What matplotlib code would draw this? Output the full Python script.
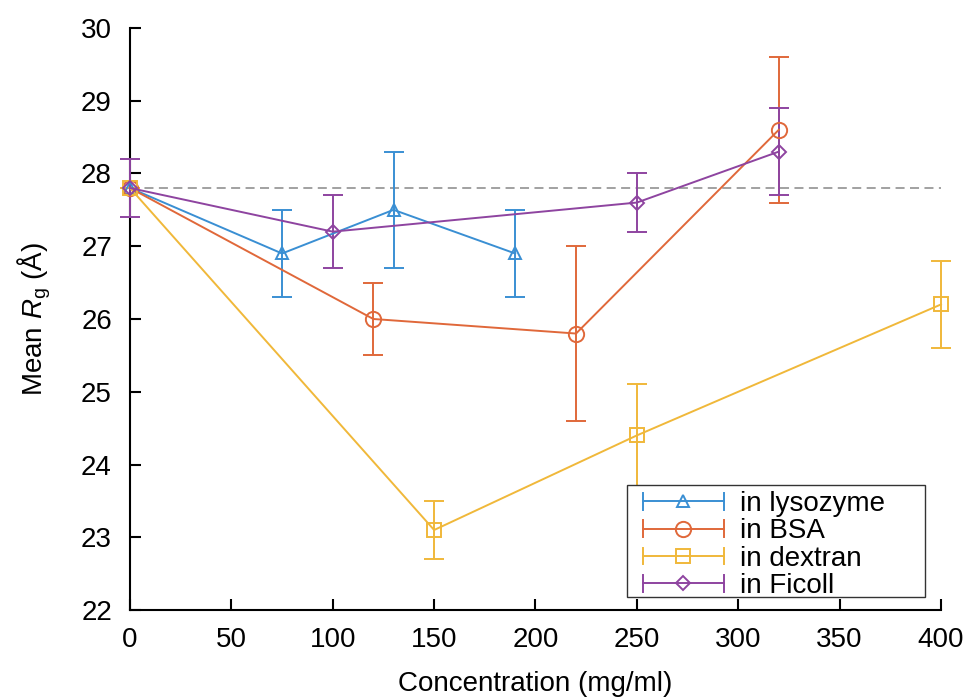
import matplotlib
matplotlib.use("Agg")
import matplotlib.pyplot as plt
from matplotlib.lines import Line2D
from matplotlib.patches import Rectangle
from matplotlib.legend_handler import HandlerBase

plt.rcParams['font.family'] = ['Liberation Sans', 'DejaVu Sans']
plt.rcParams['mathtext.fontset'] = 'custom'
plt.rcParams['mathtext.rm'] = 'Liberation Sans'
plt.rcParams['mathtext.it'] = 'Liberation Sans:italic'

# Mean radius of gyration vs crowder concentration
lys_x = [0, 75, 130, 190]
lys_y = [27.8, 26.9, 27.5, 26.9]
lys_e = [0.0, 0.6, 0.8, 0.6]

bsa_x = [0, 120, 220, 320]
bsa_y = [27.8, 26.0, 25.8, 28.6]
bsa_e = [0.0, 0.5, 1.2, 1.0]

dex_x = [0, 150, 250, 400]
dex_y = [27.8, 23.1, 24.4, 26.2]
dex_e = [0.0, 0.4, 0.7, 0.6]

fic_x = [0, 100, 250, 320]
fic_y = [27.8, 27.2, 27.6, 28.3]
fic_e = [0.4, 0.5, 0.4, 0.6]

reference_rg = 27.8
labels = ['in lysozyme', 'in BSA', 'in dextran', 'in Ficoll']
colors = ['#3a8fd3', '#e0683a', '#f0b83a', '#8e44a0']
markers = ['^', 'o', 's', 'D']
msizes = [9, 11, 10, 7.5]

xticks = [0, 50, 100, 150, 200, 250, 300, 350, 400]
yticks = [22, 23, 24, 25, 26, 27, 28, 29, 30]

fig = plt.figure(figsize=(9.73, 6.98), dpi=100)
ax = fig.add_axes([0.1336, 0.126, 0.8335, 0.834])

ax.plot([xticks[0], xticks[-1]], [reference_rg, reference_rg], ls=(0, (5, 3)),
        color='#9a9a9a', lw=1.3, zorder=1)

series = [(lys_x, lys_y, lys_e), (bsa_x, bsa_y, bsa_e),
          (dex_x, dex_y, dex_e), (fic_x, fic_y, fic_e)]
for (x, y, e), c, m, ms in zip(series, colors, markers, msizes):
    ax.errorbar(x, y, yerr=e, color=c, marker=m, ms=ms, mfc='none', mec=c,
                mew=1.4, lw=1.4, elinewidth=1.4, capsize=7, capthick=1.4,
                clip_on=False, zorder=3)


class CapLineHandler(HandlerBase):
    """Horizontal line with end caps and a centred open marker."""

    def __init__(self, color, marker, ms):
        super().__init__()
        self.color, self.marker, self.ms = color, marker, ms

    def create_artists(self, legend, orig_handle, xdescent, ydescent,
                       width, height, fontsize, trans):
        yc = height / 2 - ydescent
        x0, x1 = -xdescent, -xdescent + width
        cap = 0.3 * fontsize
        arts = [
            Line2D([x0, x1], [yc, yc], color=self.color, lw=1.4),
            Line2D([x0, x0], [yc - cap, yc + cap], color=self.color, lw=1.4),
            Line2D([x1, x1], [yc - cap, yc + cap], color=self.color, lw=1.4),
            Line2D([(x0 + x1) / 2], [yc], marker=self.marker, ms=self.ms,
                   mfc='none', mec=self.color, mew=1.4, ls='none'),
        ]
        for a in arts:
            a.set_transform(trans)
        return arts


# legend box
box = Rectangle((0.6128, 0.0223), 0.9803 - 0.6128, 0.2148 - 0.0223,
                transform=ax.transAxes, facecolor='white', edgecolor='#333333',
                lw=1.0, zorder=5, clip_on=False)
ax.add_patch(box)

handles = [Line2D([], [], color=c) for c in colors]
hmap = {h: CapLineHandler(c, m, ms) for h, c, m, ms in zip(handles, colors, markers, msizes)}
leg = ax.legend(handles, labels, loc='upper left', bbox_to_anchor=(0.6326, 0.2045),
                fontsize=20, frameon=False, handlelength=2.9, handletextpad=0.6,
                labelspacing=0.05, borderpad=0, borderaxespad=0,
                handler_map=hmap)
leg.set_zorder(6)

ax.set_xlim(0, 400)
ax.set_ylim(22, 30)
ax.set_xticks(xticks)
ax.set_yticks(yticks)
ax.tick_params(direction='in', length=8, width=1.5, labelsize=20)
ax.tick_params(axis='y', pad=13)
ax.tick_params(axis='x', pad=12)
for s in ['top', 'right']:
    ax.spines[s].set_visible(False)
for s in ['left', 'bottom']:
    ax.spines[s].set_linewidth(1.5)

ax.set_xlabel('Concentration (mg/ml)', fontsize=20, labelpad=13)
ax.set_ylabel(r'Mean $R_\mathrm{g}$ (Å)', fontsize=20, labelpad=20)

fig.savefig('out.png', dpi=100)
